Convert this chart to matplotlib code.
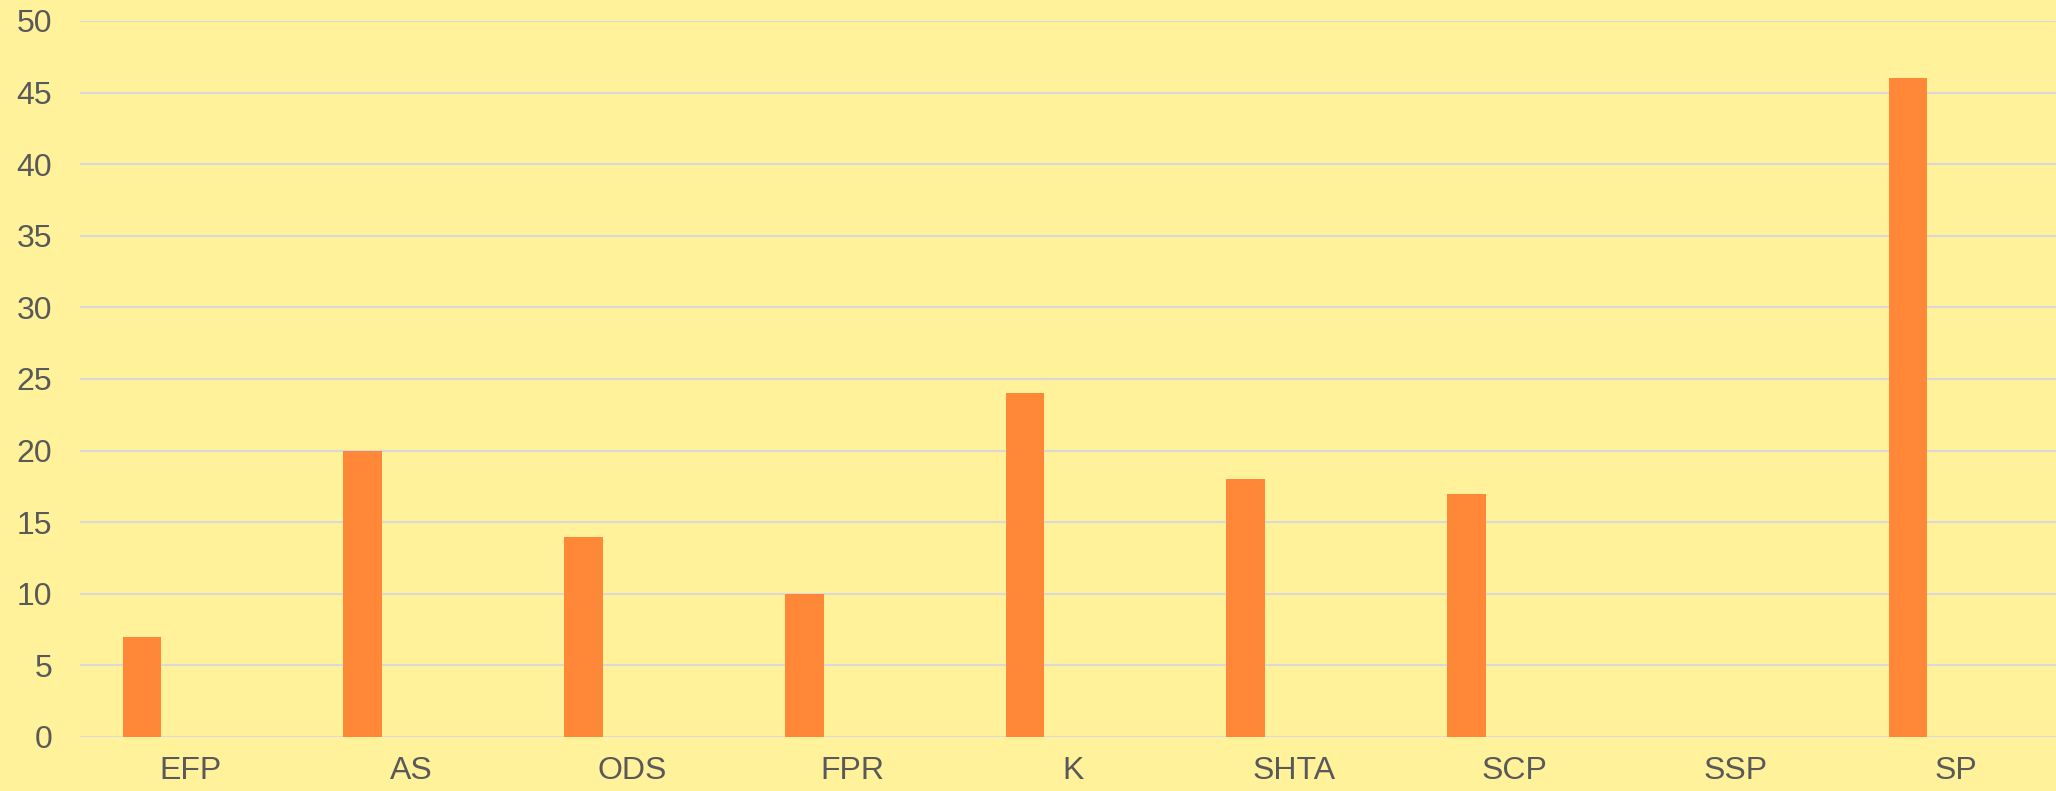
import matplotlib.pyplot as plt
import numpy as np

categories = ['EFP', 'AS', 'ODS', 'FPR', 'K', 'SHTA', 'SCP', 'SSP', 'SP']
values = [7, 20, 14, 10, 24, 18, 17, 0, 46]

bg = '#FFF29B'
bar_color = '#FF8838'
text_color = '#595959'
grid_color = '#D9D9D9'

plt.rcParams['font.family'] = ['Liberation Sans', 'DejaVu Sans']

fig = plt.figure(figsize=(20.56, 7.91), dpi=100)
fig.patch.set_facecolor(bg)

W, H = 2056, 791
cat_w = 220.75
ax = fig.add_axes([80 / W, (H - 737) / H, 9 * cat_w / W, (737 - 21) / H])
ax.set_facecolor(bg)

x = np.arange(len(categories))
# bars sit left of the category centre (clustered layout, other series empty)
ax.bar(x - 0.219, values, width=0.175, color=bar_color, zorder=3)

ax.set_xlim(-0.5, len(categories) - 0.5)
ax.set_ylim(0, 50)
ax.set_yticks(range(0, 51, 5))
ax.set_xticks(x)
ax.set_xticklabels(categories)

ax.grid(axis='y', color=grid_color, linewidth=1.5, zorder=0)
ax.grid(axis='x', visible=False)
for s in ax.spines.values():
    s.set_visible(False)
ax.tick_params(axis='both', length=0, labelsize=23, colors=text_color)
ax.tick_params(axis='x', pad=14)
ax.tick_params(axis='y', pad=20)

fig.savefig('out.png', dpi=100, facecolor=bg)
